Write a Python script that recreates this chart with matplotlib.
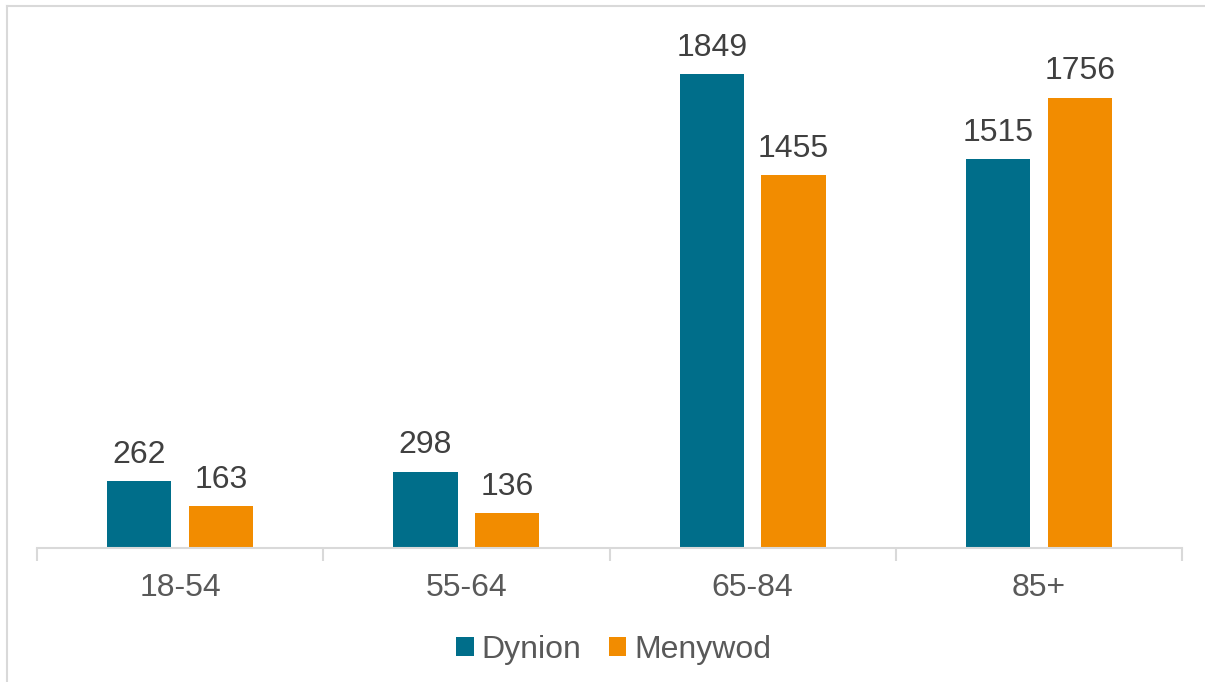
import numpy as np
import matplotlib.pyplot as plt
from matplotlib.lines import Line2D

categories = ['18-54', '55-64', '65-84', '85+']
dynion = [262, 298, 1849, 1515]
menywod = [163, 136, 1455, 1756]

teal = '#006E8A'
orange = '#F28C00'

plt.rcParams['font.family'] = ['Liberation Sans', 'DejaVu Sans']

fig = plt.figure(figsize=(12.05, 6.82), dpi=100)
ax = fig.add_axes([37 / 1205, 1 - 548 / 682, (1182 - 37) / 1205, (548 - 35) / 682])

x = np.arange(len(categories))
w = 0.224
off = 0.143
b1 = ax.bar(x - off, dynion, w, color=teal, label='Dynion')
b2 = ax.bar(x + off, menywod, w, color=orange, label='Menywod')

for bars in (b1, b2):
    ax.bar_label(bars, padding=8, fontsize=23, color='#404040')

ax.set_xlim(-0.5, len(categories) - 0.5)
ax.set_ylim(0, 2000)
ax.set_yticks([])
ax.set_xticks(x)
ax.set_xticklabels(categories, fontsize=23, color='#595959')
ax.tick_params(axis='x', which='major', length=0, pad=18)
ax.set_xticks(np.arange(len(categories) + 1) - 0.5, minor=True)
ax.tick_params(axis='x', which='minor', length=9, width=1.5, color='#D9D9D9')

for s in ['top', 'right', 'left']:
    ax.spines[s].set_visible(False)
ax.spines['bottom'].set_color('#D9D9D9')
ax.spines['bottom'].set_linewidth(1.5)

fig.legend(loc='center', bbox_to_anchor=(0.5 + 11 / 1205, 1 - 650 / 682), ncol=2, frameon=False,
           fontsize=23, labelcolor='#595959', handlelength=0.55, handleheight=0.55,
           handletextpad=0.25, columnspacing=0.85)

# chart border (top and left edges visible)
fig.add_artist(Line2D([7 / 1205, 7 / 1205], [0, 1 - 6 / 682], transform=fig.transFigure,
                      color='#D9D9D9', lw=1.5))
fig.add_artist(Line2D([7 / 1205, 1], [1 - 6 / 682, 1 - 6 / 682], transform=fig.transFigure,
                      color='#D9D9D9', lw=1.5))

fig.savefig('out.png', dpi=100, facecolor='white')
